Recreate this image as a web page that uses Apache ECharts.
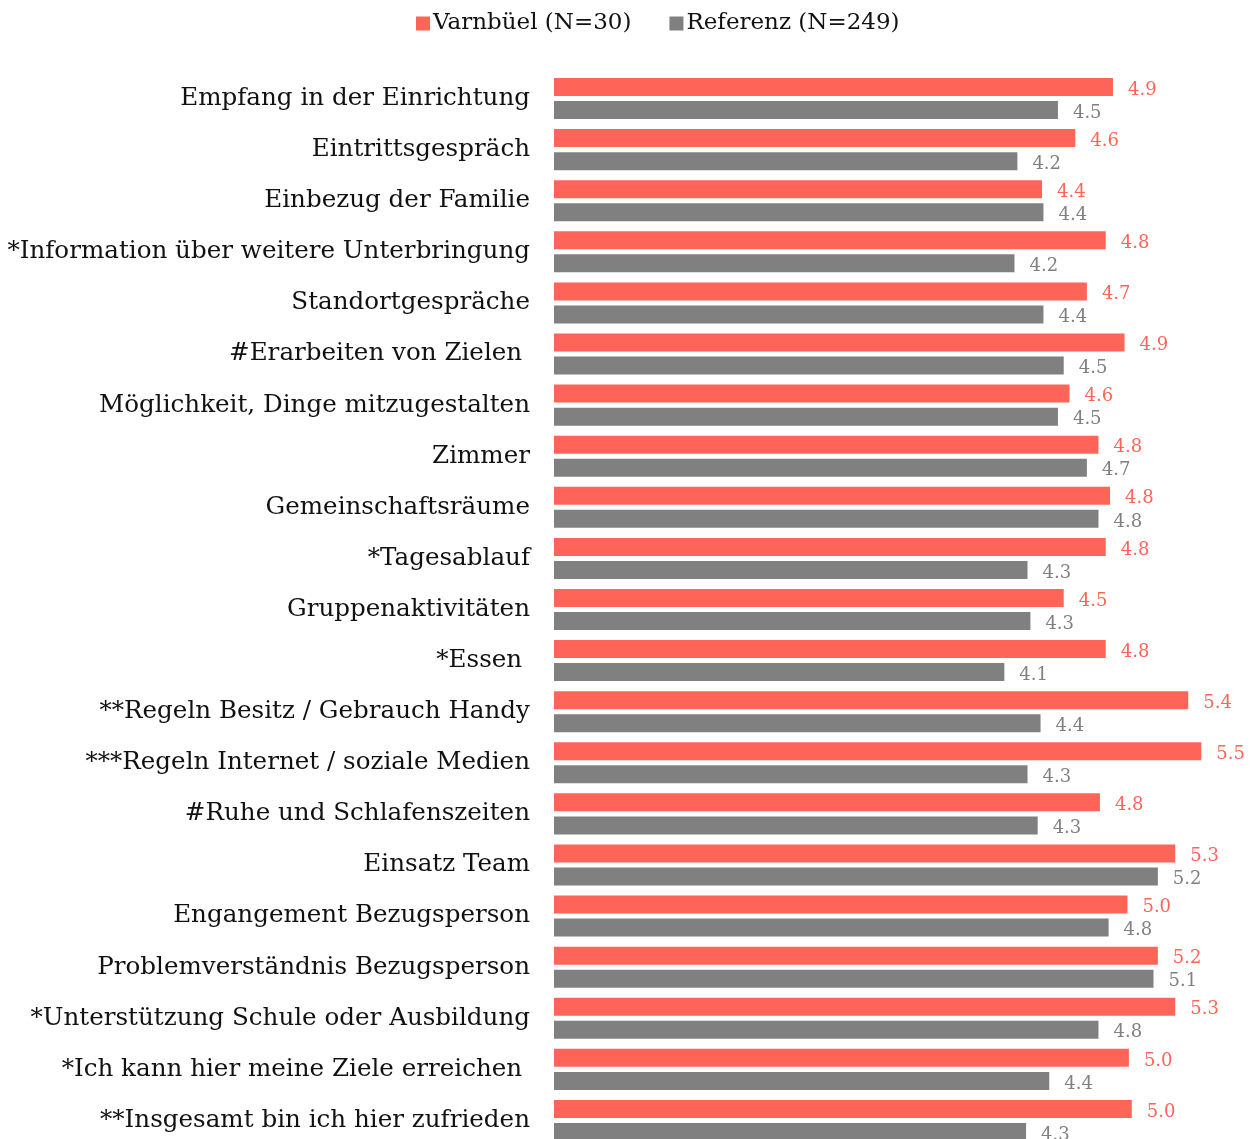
<!DOCTYPE html>
<html><head><meta charset="utf-8">
<script src="https://cdn.jsdelivr.net/npm/echarts@6/dist/echarts.min.js"></script>
<style>html,body{margin:0;padding:0;background:#fff;overflow:hidden}#c{width:1254px;height:1146px}</style>
</head><body><div id="c"></div>
<script>
const categories = [
  "Empfang in der Einrichtung",
  "Eintrittsgespräch",
  "Einbezug der Familie",
  "*Information über weitere Unterbringung",
  "Standortgespräche",
  "#Erarbeiten von Zielen ",
  "Möglichkeit, Dinge mitzugestalten",
  "Zimmer",
  "Gemeinschaftsräume",
  "*Tagesablauf",
  "Gruppenaktivitäten",
  "*Essen ",
  "**Regeln Besitz / Gebrauch Handy",
  "***Regeln Internet / soziale Medien",
  "#Ruhe und Schlafenszeiten",
  "Einsatz Team",
  "Engangement Bezugsperson",
  "Problemverständnis Bezugsperson",
  "*Unterstützung Schule oder Ausbildung",
  "*Ich kann hier meine Ziele erreichen ",
  "**Insgesamt bin ich hier zufrieden"
];
const seriesNames = ["Varnbüel (N=30)", "Referenz (N=249)"];
const varnbuel = [4.86,4.60,4.37,4.81,4.68,4.94,4.56,4.76,4.84,4.81,4.52,4.81,5.38,5.47,4.77,5.29,4.96,5.17,5.29,4.97,4.99];
const referenz = [4.48,4.20,4.38,4.18,4.38,4.52,4.48,4.68,4.76,4.27,4.29,4.11,4.36,4.27,4.34,5.17,4.83,5.14,4.76,4.42,4.26];

const RED = "#FF6459", GRAY = "#808080";
const FONT = "DejaVu Serif";
const chart = echarts.init(document.getElementById('c'));
chart.setOption({
  animation: false,
  textStyle: { fontFamily: FONT },
  legend: {
    top: 7, left: 411, icon: 'rect', itemWidth: 14, itemHeight: 14, itemGap: 38,
    textStyle: { fontFamily: FONT, fontSize: 23, color: '#111', padding: [0,0,0,-2] },
    data: seriesNames
  },
  grid: { left: 554, width: 680.6, top: 73, bottom: 0 },
  xAxis: { type: 'value', min: 1, max: 5.7, show: false, splitLine: { show: false } },
  yAxis: {
    type: 'category', inverse: true, data: categories,
    axisLine: { show: false }, axisTick: { show: false },
    axisLabel: { fontFamily: FONT, fontSize: 24.6, color: '#111', margin: 24 }
  },
  series: [
    { name: seriesNames[0], type: 'bar', data: varnbuel, barWidth: 18, barGap: '28%',
      itemStyle: { color: RED },
      label: { show: true, position: 'right', distance: 15, color: RED, fontFamily: FONT, fontSize: 18, offset: [0, 3],
        formatter: p => p.value.toFixed(1) } },
    { name: seriesNames[1], type: 'bar', data: referenz, barWidth: 18,
      itemStyle: { color: GRAY },
      label: { show: true, position: 'right', distance: 15, color: GRAY, fontFamily: FONT, fontSize: 18, offset: [0, 3],
        formatter: p => p.value.toFixed(1) } }
  ]
});
</script></body></html>
